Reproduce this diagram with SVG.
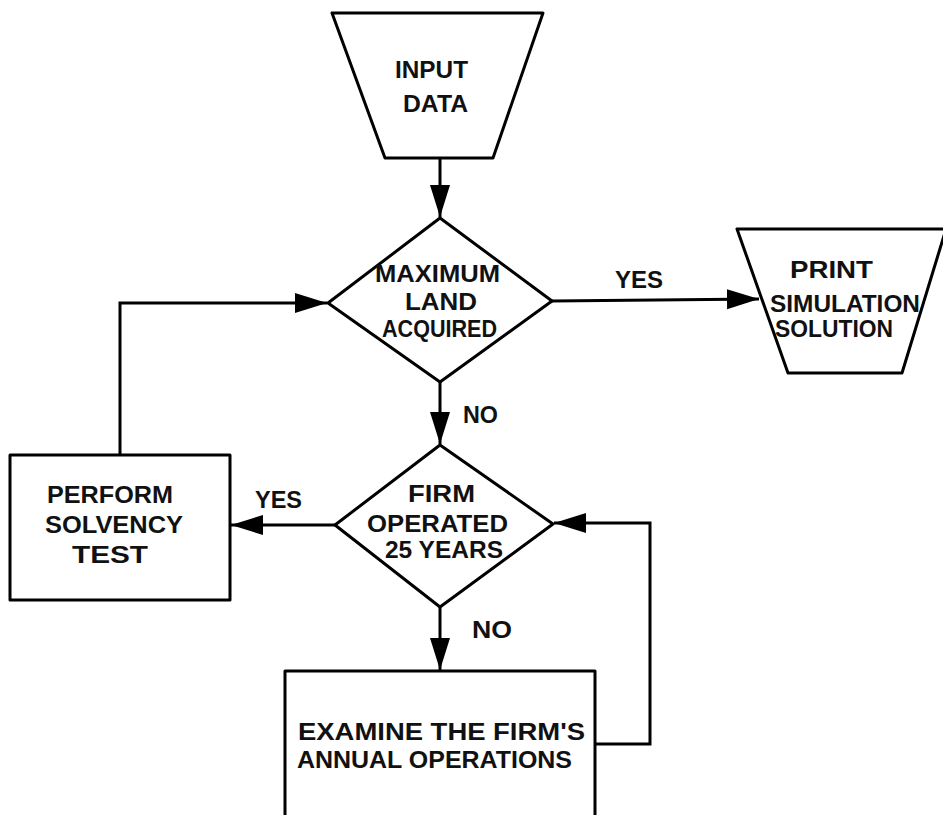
<svg xmlns="http://www.w3.org/2000/svg" width="943" height="815" viewBox="0 0 943 815">
<defs>
<style>
.shape{fill:#fff;stroke:#000;stroke-width:3;stroke-linejoin:round}
.edge{fill:none;stroke:#000;stroke-width:3}
text{font-family:"Liberation Sans","DejaVu Sans",Arial,sans-serif;font-size:24px;font-weight:bold;fill:#111}
</style>
<marker id="ah" markerUnits="userSpaceOnUse" markerWidth="34" markerHeight="22" refX="32" refY="10" orient="auto">
<path d="M0,0 L32,10 L0,20 Z" fill="#000"/>
</marker>
</defs>
<rect width="943" height="815" fill="#fff"/>
<g id="connectors">
<path class="edge" d="M440,158 L440,217" marker-end="url(#ah)"/>
<path class="edge" d="M552,301 L759,299" marker-end="url(#ah)"/>
<path class="edge" d="M440,382 L440,444" marker-end="url(#ah)"/>
<path class="edge" d="M335,525 L231,525" marker-end="url(#ah)"/>
<path class="edge" d="M120,455 L120,303 L327,303" marker-end="url(#ah)"/>
<path class="edge" d="M440,607 L440,670" marker-end="url(#ah)"/>
<path class="edge" d="M595,744 L650,744 L650,523 L554,523" marker-end="url(#ah)"/>
<text x="615" y="288" textLength="48" lengthAdjust="spacingAndGlyphs">YES</text>
<text x="463" y="423" textLength="35" lengthAdjust="spacingAndGlyphs">NO</text>
<text x="255" y="508" textLength="47" lengthAdjust="spacingAndGlyphs">YES</text>
<text x="472" y="638" textLength="40" lengthAdjust="spacingAndGlyphs">NO</text>
</g>
<g id="input-data">
<polygon class="shape" points="332,13 543,13 493,158 385,158"/>
<text x="395" y="78" textLength="73" lengthAdjust="spacingAndGlyphs">INPUT</text>
<text x="403" y="112" textLength="65" lengthAdjust="spacingAndGlyphs">DATA</text>
</g>
<g id="max-land">
<polygon class="shape" points="440,218 552,301 440,382 328,303"/>
<text x="375" y="282" textLength="125" lengthAdjust="spacingAndGlyphs">MAXIMUM</text>
<text x="405" y="310" textLength="72" lengthAdjust="spacingAndGlyphs">LAND</text>
<text x="382" y="337" textLength="115" lengthAdjust="spacingAndGlyphs">ACQUIRED</text>
</g>
<g id="print-solution">
<polygon class="shape" points="737,229 946,229 902,373 788,373"/>
<text x="790" y="278" textLength="83" lengthAdjust="spacingAndGlyphs">PRINT</text>
<text x="770" y="312" textLength="150" lengthAdjust="spacingAndGlyphs">SIMULATION</text>
<text x="775" y="337" textLength="118" lengthAdjust="spacingAndGlyphs">SOLUTION</text>
</g>
<g id="firm-25">
<polygon class="shape" points="440,445 553,524 440,607 335,525"/>
<text x="408" y="502" textLength="67" lengthAdjust="spacingAndGlyphs">FIRM</text>
<text x="367" y="532" textLength="141" lengthAdjust="spacingAndGlyphs">OPERATED</text>
<text x="385" y="558" textLength="118" lengthAdjust="spacingAndGlyphs">25 YEARS</text>
</g>
<g id="solvency">
<rect class="shape" x="10" y="455" width="220" height="145"/>
<text x="47" y="503" textLength="126" lengthAdjust="spacingAndGlyphs">PERFORM</text>
<text x="45" y="533" textLength="138" lengthAdjust="spacingAndGlyphs">SOLVENCY</text>
<text x="72" y="563" textLength="76" lengthAdjust="spacingAndGlyphs">TEST</text>
</g>
<g id="examine">
<rect class="shape" x="285" y="671" width="310" height="160"/>
<text x="298" y="740" textLength="287" lengthAdjust="spacingAndGlyphs">EXAMINE THE FIRM'S</text>
<text x="297" y="768" textLength="275" lengthAdjust="spacingAndGlyphs">ANNUAL OPERATIONS</text>
</g>
</svg>
